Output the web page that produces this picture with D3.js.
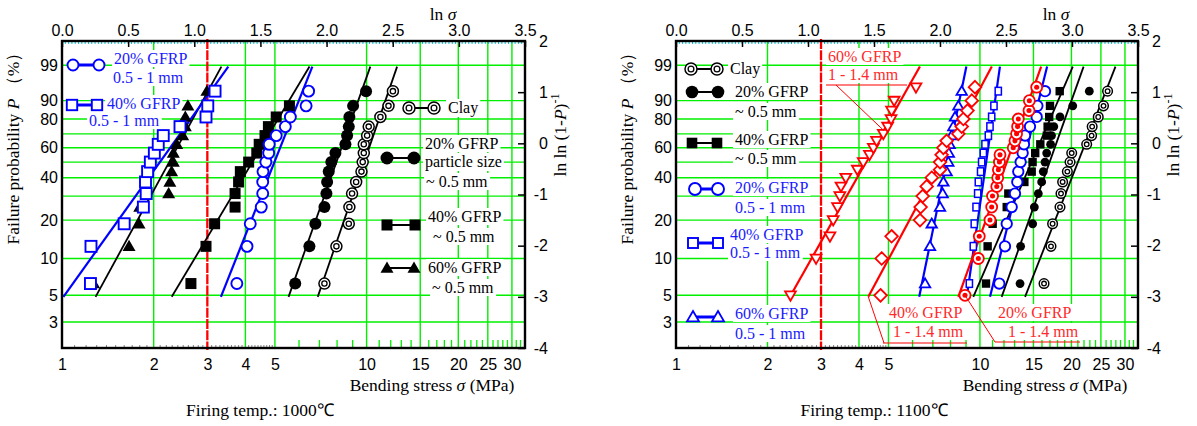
<!DOCTYPE html>
<html><head><meta charset="utf-8">
<script src="https://cdn.jsdelivr.net/npm/d3@7"></script>
<style>
body{margin:0;background:#fff;}
svg{display:block;}
</style></head><body>
<svg id="chart" width="1197" height="426"></svg>
<script>
// plotting positions (%) of ranked specimens, i/(N+1)
const rankP15 = [6.25, 12.5, 18.75, 25, 31.25, 37.5, 43.75, 50, 56.25, 62.5, 68.75, 75, 81.25, 87.5, 93.75];
const rankP19 = [5, 10, 15, 20, 25, 30, 35, 40, 45, 50, 55, 60, 65, 70, 75, 80, 85, 90, 95];

// axis ticks
const probTicks = [3, 5, 10, 20, 40, 60, 80, 90, 99];
const probGrid = [3, 5, 10, 20, 30, 40, 50, 60, 70, 80, 90, 99];
const stressTicks = [1, 2, 3, 4, 5, 10, 15, 20, 25, 30];
const stressGrid = [2, 4, 5, 10, 15, 20, 25, 30];
const lnStressTicks = [0, 0.5, 1, 1.5, 2, 2.5, 3, 3.5];
const weibTicks = [-4, -3, -2, -1, 0, 1, 2];

// bending strength (MPa), fired at 1000 C
const c1000Clay      = [7.27, 7.96, 8.74, 8.78, 8.96, 9.24, 9.62, 9.71, 9.79, 9.79, 10.04, 10.16, 11.1, 11.8, 12.2];
const c1000Gf20Fine  = [5.83, 6.49, 6.79, 7.27, 7.38, 7.42, 7.51, 7.66, 7.90, 8.52, 8.63, 8.74, 8.78, 9.03, 9.96];
const c1000Gf40Fine  = [2.65, 2.97, 3.17, 3.70, 3.70, 3.80, 3.85, 4.10, 4.36, 4.44, 4.64, 4.76, 5.05, 5.58];
const c1000Gf60Fine  = [1.27, 1.66, 1.79, 1.80, 2.24, 2.26, 2.29, 2.32, 2.32, 2.38, 2.49, 2.54, 2.54, 2.59, 2.99];
const c1000Gf20Mid   = [3.75, 4.05, 4.15, 4.51, 4.56, 4.56, 4.57, 4.67, 4.77, 4.79, 5.05, 5.41, 5.62, 6.33, 6.45];
const c1000Gf40Mid   = [1.24, 1.245, 1.60, 1.85, 1.89, 1.88, 1.91, 1.95, 2.01, 2.07, 2.15, 2.44, 2.97, 3.01, 3.18];

// bending strength (MPa), fired at 1100 C
const c1100Clay      = [16.25, 17.13, 17.34, 18.34, 18.48, 18.71, 19.39, 19.79, 20.04, 22.45, 23.3, 23.4, 24.5, 25.5, 26.3];
const c1100Gf20Fine  = [13.55, 13.61, 14.91, 15.1, 15.56, 15.96, 16.16, 16.37, 16.58, 17.08, 17.2, 17.5, 18.34, 20.2, 22.9];
const c1100Gf40Fine  = [10.47, 10.60, 11.01, 12.25, 12.4, 14.0, 14.8, 14.9, 15.2, 15.8, 16.6, 16.7, 16.9, 17.0, 18.3];
const c1100Gf20Mid   = [11.58, 12.09, 12.25, 12.72, 13.04, 13.27, 13.37, 13.61, 13.82, 13.96, 14.07, 14.61, 15.37, 15.45, 16.37];
const c1100Gf40Mid   = [9.23, 9.51, 9.58, 9.71, 9.83, 9.88, 10.05, 10.13, 10.26, 10.39, 10.66, 10.79, 10.93, 11.12, 11.49];
const c1100Gf60Mid   = [6.6, 6.85, 6.94, 7.39, 7.54, 7.58, 7.77, 7.87, 7.9, 7.95, 8.07, 8.17, 8.28, 8.49, 8.71];
const c1100Gf20Coarse = [8.93, 9.88, 9.95, 10.79, 10.93, 11.0, 11.36, 11.44, 11.5, 11.59, 11.64, 12.87, 13.04, 13.2, 13.3, 13.37, 14.5, 14.54, 15.37];
const c1100Gf40Coarse = [4.71, 4.75, 5.12, 6.35, 6.38, 6.48, 6.68, 6.94, 7.39, 7.39, 7.48, 7.58, 7.77, 8.49, 8.71, 8.82, 9.1, 9.4, 9.63];
const c1100Gf60Coarse = [2.38, 2.89, 3.21, 3.29, 3.40, 3.46, 3.49, 3.62, 3.95, 4.13, 4.33, 4.46, 4.57, 4.81, 4.97, 5.10, 5.12, 5.22, 6.16];

// Weibull fits: [modulus m, scale sigma0 (MPa)]
const fit1000Clay = [7.50, 10.31];
const fit1000Gf20Fine = [7.28, 8.37];
const fit1000Gf40Fine = [4.32, 4.59];
const fit1000Gf60Fine = [4.73, 2.43];
const fit1000Gf20Mid = [6.51, 5.27];
const fit1000Gf40Mid = [3.61, 2.32];
const fit1100Clay = [6.57, 22.22];
const fit1100Gf20Fine = [7.25, 17.83];
const fit1100Gf40Fine = [5.97, 15.72];
const fit1100Gf20Mid = [10.4, 14.40];
const fit1100Gf40Mid = [17.9, 10.70];
const fit1100Gf60Mid = [12.6, 8.01];
const fit1100Gf20Coarse = [7.17, 12.90];
const fit1100Gf40Coarse = [4.81, 8.01];
const fit1100Gf60Coarse = [4.57, 4.57];

const BLUE = "#0000ff", RED = "#ff0000", BLACK = "#000", GRID = "#00f000";
const BLUE_T = "#1a1aff", RED_T = "#ff2a2a";
const SANS = "'Liberation Sans', Arial, sans-serif";
const SERIF = "'Liberation Serif', 'Times New Roman', serif";
const TICK_FS = 16, TITLE_FS = 17.5;

const svg = d3.select("#chart");
svg.append("rect").attr("width", 1197).attr("height", 426).attr("fill", "#fff");

const yTop = 41, yBot = 348;
const weib = p => Math.log(-Math.log(1 - p / 100));
const y = d3.scaleLinear().domain([-4, 2]).range([yBot, yTop]);
const LN_MAX = 3.5;
const FIT_LO = -3, FIT_HI = 1.5;

// marker shapes
function marker(g, kind, cx, cy, r, color) {
  const tri = (s) => `M${cx},${cy - s * r}L${cx + r},${cy + s * 0.72 * r}L${cx - r},${cy + s * 0.72 * r}Z`;
  switch (kind) {
    case "clay":
      g.append("circle").attr("cx", cx).attr("cy", cy).attr("r", r).attr("fill", "#fff").attr("stroke", BLACK).attr("stroke-width", 1.5);
      g.append("circle").attr("cx", cx).attr("cy", cy).attr("r", r * 0.48).attr("fill", "#fff").attr("stroke", BLACK).attr("stroke-width", 1.3);
      break;
    case "dot":
      g.append("circle").attr("cx", cx).attr("cy", cy).attr("r", r).attr("fill", BLACK);
      break;
    case "sq":
      g.append("rect").attr("x", cx - r).attr("y", cy - r).attr("width", 2 * r).attr("height", 2 * r).attr("fill", BLACK);
      break;
    case "tri":
      g.append("path").attr("d", tri(1)).attr("fill", BLACK);
      break;
    case "ocirc":
      g.append("circle").attr("cx", cx).attr("cy", cy).attr("r", r).attr("fill", "#fff").attr("stroke", color).attr("stroke-width", 1.9);
      break;
    case "osq":
      g.append("rect").attr("x", cx - r).attr("y", cy - r).attr("width", 2 * r).attr("height", 2 * r)
        .attr("fill", "#fff").attr("stroke", color).attr("stroke-width", 1.9);
      break;
    case "osqs":
      g.append("rect").attr("x", cx - r * 0.82).attr("y", cy - r).attr("width", 1.64 * r).attr("height", 2 * r)
        .attr("fill", "#fff").attr("stroke", color).attr("stroke-width", 1.5);
      break;
    case "otri":
      g.append("path").attr("d", tri(1)).attr("fill", "#fff").attr("stroke", color).attr("stroke-width", 1.8);
      break;
    case "itri":
      g.append("path").attr("d", tri(-1)).attr("fill", "#fff").attr("stroke", color).attr("stroke-width", 1.8);
      break;
    case "dia":
      g.append("path").attr("d", `M${cx},${cy - r}L${cx + r},${cy}L${cx},${cy + r}L${cx - r},${cy}Z`)
        .attr("fill", "#fff").attr("stroke", color).attr("stroke-width", 1.8);
      break;
    case "rcirc":
      g.append("circle").attr("cx", cx).attr("cy", cy).attr("r", r).attr("fill", "#fff").attr("stroke", color).attr("stroke-width", 1.8);
      g.append("circle").attr("cx", cx).attr("cy", cy).attr("r", r * 0.46).attr("fill", color);
      break;
  }
}

// text line with a white backing box
function boxedText(P, x, yb, str, color, size) {
  const t = P.text.append("text").attr("x", x).attr("y", yb).attr("fill", color)
    .attr("font-family", SERIF).attr("font-size", size || 16).text(str);
  const b = t.node().getBBox();
  P.box.append("rect").attr("x", b.x - 2).attr("y", b.y).attr("width", b.width + 4).attr("height", b.height)
    .attr("fill", "#fff");
  return t;
}

function legendSample(P, x1, x2, yy, kind, r, color, lw) {
  P.mark.append("line").attr("x1", x1).attr("x2", x2).attr("y1", yy).attr("y2", yy)
    .attr("stroke", color).attr("stroke-width", lw);
  marker(P.mark, kind, x1, yy, r, color);
  marker(P.mark, kind, x2, yy, r, color);
}

function makePanel(left, right, caption, series) {
  const x = d3.scaleLog().domain([1, Math.exp(LN_MAX)]).range([left, right]);
  const xl = d3.scaleLinear().domain([0, LN_MAX]).range([left, right]);
  const g = svg.append("g");
  const P = { x, xl, left, right };
  ["grid", "box", "fit", "mark", "text", "frame"].forEach(k => P[k] = g.append("g"));

  // probability grid
  P.grid.selectAll(".hg").data(probGrid).join("line")
    .attr("x1", left).attr("x2", right)
    .attr("y1", d => y(weib(d))).attr("y2", d => y(weib(d)))
    .attr("stroke", GRID).attr("stroke-width", 1.4);
  // stress grid
  P.grid.selectAll(".vg").data(stressGrid).join("line")
    .attr("x1", d => x(d)).attr("x2", d => x(d)).attr("y1", yTop).attr("y2", yBot)
    .attr("stroke", GRID).attr("stroke-width", 1.4);
  // minor stress ticks
  const minorGreen = d3.range(6, 34).filter(d => !stressGrid.includes(d));
  P.grid.selectAll(".mg").data(minorGreen).join("line")
    .attr("x1", d => x(d)).attr("x2", d => x(d)).attr("y1", yBot - 8).attr("y2", yBot)
    .attr("stroke", GRID).attr("stroke-width", 1.3);
  const minorDark = d3.range(11, 50).map(d => d / 10).filter(d => Math.abs(d - Math.round(d)) > 0.01);
  P.grid.selectAll(".md").data(minorDark).join("line")
    .attr("x1", d => x(d)).attr("x2", d => x(d)).attr("y1", yBot - 3).attr("y2", yBot)
    .attr("stroke", "#666").attr("stroke-width", 0.8);
  // cyan minor ticks along top
  const minorLn = d3.range(0, 140).map(d => d * 0.025);
  P.grid.selectAll(".mc").data(minorLn).join("line")
    .attr("x1", d => xl(d)).attr("x2", d => xl(d)).attr("y1", yTop + 1).attr("y2", yTop + 3)
    .attr("stroke", "#00c8d8").attr("stroke-width", 1);

  // reference stress line at 3 MPa
  P.grid.append("line").attr("x1", x(3)).attr("x2", x(3)).attr("y1", yTop - 2).attr("y2", yBot + 2)
    .attr("stroke", RED).attr("stroke-width", 2.3).attr("stroke-dasharray", "10,1.2");

  // data: fitted lines and specimens
  series.forEach(s => {
    const [m, s0] = s.fit;
    const ends = [FIT_LO, FIT_HI].map(w => [s0 * Math.exp(w / m), w]);
    P.fit.append("line")
      .attr("x1", x(ends[0][0])).attr("y1", y(ends[0][1]))
      .attr("x2", x(ends[1][0])).attr("y2", y(ends[1][1]))
      .attr("stroke", s.color).attr("stroke-width", s.color === BLACK ? 1.8 : 2.2);
    s.sigma.forEach((v, i) => marker(P.mark, s.kind, x(v), y(weib(s.p[i])), s.r, s.color));
  });

  // frame
  P.frame.append("rect").attr("x", left).attr("y", yTop).attr("width", right - left).attr("height", yBot - yTop)
    .attr("fill", "none").attr("stroke", BLACK).attr("stroke-width", 2.4);

  // top axis: ln sigma
  const top = P.frame.append("g").attr("transform", `translate(0,${yTop})`)
    .call(d3.axisTop(xl).tickValues(lnStressTicks).tickSizeInner(-6).tickSizeOuter(0).tickPadding(5).tickFormat(d3.format(".1f")));
  top.select(".domain").remove();
  top.selectAll("line").attr("stroke-width", 1.5);
  top.selectAll("text").attr("font-family", SANS).attr("font-size", TICK_FS).attr("fill", BLACK);

  // bottom axis: sigma
  const bot = P.frame.append("g").attr("transform", `translate(0,${yBot})`)
    .call(d3.axisBottom(x).tickValues(stressTicks).tickSize(0).tickPadding(11).tickFormat(d3.format("d")));
  bot.select(".domain").remove();
  bot.selectAll("text").attr("font-family", SANS).attr("font-size", TICK_FS).attr("fill", BLACK);

  // left axis: failure probability
  const lax = P.frame.append("g").attr("transform", `translate(${left},0)`)
    .call(d3.axisLeft(y).tickValues(probTicks.map(weib)).tickSize(0).tickPadding(4).tickFormat((d, i) => probTicks[i]));
  lax.select(".domain").remove();
  lax.selectAll("text").attr("font-family", SANS).attr("font-size", TICK_FS).attr("fill", BLACK);

  // right axis: ln ln (1-P)^-1
  const rax = P.frame.append("g").attr("transform", `translate(${right},0)`)
    .call(d3.axisRight(y).tickValues(weibTicks).tickSizeInner(-7).tickSizeOuter(0).tickPadding(4)
      .tickFormat(d => (d < 0 ? "-" : "") + Math.abs(d)));
  rax.select(".domain").remove();
  rax.selectAll("line").attr("stroke-width", 1.5);
  rax.selectAll("text").attr("font-family", SANS).attr("font-size", TICK_FS).attr("fill", BLACK)
    .attr("text-anchor", "end").attr("x", 23);

  // axis titles
  const t1 = P.text.append("text").attr("x", right - 82).attr("y", 20).attr("text-anchor", "middle")
    .attr("font-family", SERIF).attr("font-size", TITLE_FS);
  t1.append("tspan").text("ln ");
  t1.append("tspan").attr("font-style", "italic").text("σ");

  const t2 = P.text.append("text").attr("transform", `translate(${right + 41},135) rotate(-90)`)
    .attr("text-anchor", "middle").attr("font-family", SERIF).attr("font-size", TITLE_FS);
  t2.append("tspan").text("ln ln (1-");
  t2.append("tspan").attr("font-style", "italic").text("P");
  t2.append("tspan").text(")");
  t2.append("tspan").attr("dy", -7).attr("font-size", 12).text("-1");

  const t3 = P.text.append("text").attr("transform", `translate(${left - 43},144) rotate(-90)`)
    .attr("text-anchor", "middle").attr("font-family", SERIF).attr("font-size", TITLE_FS);
  t3.append("tspan").text("Failure probability ");
  t3.append("tspan").attr("font-style", "italic").text("P");
  t3.append("tspan").text(" （%）");

  const t4 = P.text.append("text").attr("x", right - 93).attr("y", 391).attr("text-anchor", "middle")
    .attr("font-family", SERIF).attr("font-size", TITLE_FS);
  t4.append("tspan").text("Bending stress  ");
  t4.append("tspan").attr("font-style", "italic").text("σ");
  t4.append("tspan").text("  (MPa)");

  P.text.append("text").attr("x", left + 198).attr("y", 416).attr("text-anchor", "middle")
    .attr("font-family", SERIF).attr("font-size", TITLE_FS).text(caption);
  return P;
}

// ---- 1000 C panel
const L = makePanel(62, 525, "Firing temp.:  1000℃", [
  { sigma: c1000Clay, p: rankP15, fit: fit1000Clay, kind: "clay", r: 5.5, color: BLACK },
  { sigma: c1000Gf20Fine, p: rankP15, fit: fit1000Gf20Fine, kind: "dot", r: 6, color: BLACK },
  { sigma: c1000Gf40Fine, p: rankP15, fit: fit1000Gf40Fine, kind: "sq", r: 5.5, color: BLACK },
  { sigma: c1000Gf60Fine, p: rankP15, fit: fit1000Gf60Fine, kind: "tri", r: 6.5, color: BLACK },
  { sigma: c1000Gf20Mid, p: rankP15, fit: fit1000Gf20Mid, kind: "ocirc", r: 5.5, color: BLUE },
  { sigma: c1000Gf40Mid, p: rankP15, fit: fit1000Gf40Mid, kind: "osq", r: 5.5, color: BLUE }
]);
legendSample(L, 73, 99, 65, "ocirc", 5.5, BLUE, 3);
boxedText(L, 114, 64, "20% GFRP", BLUE_T);
boxedText(L, 113, 83, "0.5 - 1 mm", BLUE_T);
legendSample(L, 72, 97, 105, "osq", 5.2, BLUE, 3);
boxedText(L, 107, 109, "40% GFRP", BLUE_T);
boxedText(L, 89, 126, "0.5 - 1 mm", BLUE_T);

legendSample(L, 409, 434, 108, "clay", 6, BLACK, 2);
boxedText(L, 448, 113, "Clay", BLACK);
legendSample(L, 387, 414, 158, "dot", 6.5, BLACK, 2);
boxedText(L, 425, 149, "20% GFRP", BLACK);
boxedText(L, 425, 167, "particle size", BLACK);
boxedText(L, 426, 187, "~ 0.5 mm", BLACK);
legendSample(L, 387, 415, 225, "sq", 5.5, BLACK, 2);
boxedText(L, 428, 222, "40% GFRP", BLACK);
boxedText(L, 433, 242, "~ 0.5 mm", BLACK);
legendSample(L, 387, 414, 268, "tri", 6.5, BLACK, 2);
boxedText(L, 428, 273, "60% GFRP", BLACK);
boxedText(L, 432, 293, "~ 0.5 mm", BLACK);

// ---- 1100 C panel
const R = makePanel(676, 1138, "Firing temp.:  1100℃", [
  { sigma: c1100Clay, p: rankP15, fit: fit1100Clay, kind: "clay", r: 4.8, color: BLACK },
  { sigma: c1100Gf20Fine, p: rankP15, fit: fit1100Gf20Fine, kind: "dot", r: 4.4, color: BLACK },
  { sigma: c1100Gf40Fine, p: rankP15, fit: fit1100Gf40Fine, kind: "sq", r: 4.2, color: BLACK },
  { sigma: c1100Gf20Mid, p: rankP15, fit: fit1100Gf20Mid, kind: "ocirc", r: 5.2, color: BLUE },
  { sigma: c1100Gf40Mid, p: rankP15, fit: fit1100Gf40Mid, kind: "osqs", r: 3.8, color: BLUE },
  { sigma: c1100Gf60Mid, p: rankP15, fit: fit1100Gf60Mid, kind: "otri", r: 5.2, color: BLUE },
  { sigma: c1100Gf20Coarse, p: rankP19, fit: fit1100Gf20Coarse, kind: "rcirc", r: 5.5, color: RED },
  { sigma: c1100Gf40Coarse, p: rankP19, fit: fit1100Gf40Coarse, kind: "dia", r: 6.3, color: RED },
  { sigma: c1100Gf60Coarse, p: rankP19, fit: fit1100Gf60Coarse, kind: "itri", r: 5.4, color: RED }
]);
legendSample(R, 691, 717, 69, "clay", 6, BLACK, 2);
boxedText(R, 730, 74, "Clay", BLACK);
legendSample(R, 692, 718, 92, "dot", 6.3, BLACK, 2);
boxedText(R, 735, 97, "20% GFRP", BLACK);
boxedText(R, 735, 117, "~ 0.5 mm", BLACK);
legendSample(R, 692, 717, 143, "sq", 5.3, BLACK, 2);
boxedText(R, 735, 145, "40% GFRP", BLACK);
boxedText(R, 735, 164, "~ 0.5 mm", BLACK);
legendSample(R, 695, 718, 189, "ocirc", 6, BLUE, 3);
boxedText(R, 735, 193, "20% GFRP", BLUE_T);
boxedText(R, 735, 213, "0.5 - 1 mm", BLUE_T);
legendSample(R, 693, 718, 243, "osq", 5, BLUE, 3);
boxedText(R, 730, 240, "40% GFRP", BLUE_T);
boxedText(R, 730, 258, "0.5 - 1 mm", BLUE_T);
legendSample(R, 693, 718, 317, "otri", 6, BLUE, 3);
boxedText(R, 735, 319, "60% GFRP", BLUE_T);
boxedText(R, 735, 339, "0.5 - 1 mm", BLUE_T);

// callouts for the coarse-particle series
function callout(P, tx, lines, ux1, ux2, uy, from, to) {
  boxedText(P, tx[0], lines[0][1], lines[0][0], RED_T);
  boxedText(P, tx[1], lines[1][1], lines[1][0], RED_T);
  P.text.append("line").attr("x1", ux1).attr("x2", ux2).attr("y1", uy).attr("y2", uy)
    .attr("stroke", RED).attr("stroke-width", 1.2);
  P.text.append("line").attr("x1", from[0]).attr("y1", from[1]).attr("x2", to[0]).attr("y2", to[1])
    .attr("stroke", RED).attr("stroke-width", 1);
}
{
  const [m6, s6] = fit1100Gf60Coarse;
  const w6 = 0.25;
  callout(R, [828, 828], [["60% GFRP", 62], ["1 - 1.4 mm", 80]], 826, 907, 85,
    [836, 85], [R.x(s6 * Math.exp(w6 / m6)), y(w6)]);
  const [m4, s4] = fit1100Gf40Coarse;
  callout(R, [889, 893], [["40% GFRP", 318], ["1 - 1.4 mm", 337]], 883, 967, 343,
    [R.x(s4 * Math.exp(FIT_LO / m4)), y(FIT_LO)], [884, 343]);
  callout(R, [998, 1008], [["20% GFRP", 318], ["1 - 1.4 mm", 337]], 995, 1080, 342,
    [R.x(c1100Gf20Coarse[0]), y(weib(rankP19[0]))], [995, 342]);
}
</script>
</body></html>
